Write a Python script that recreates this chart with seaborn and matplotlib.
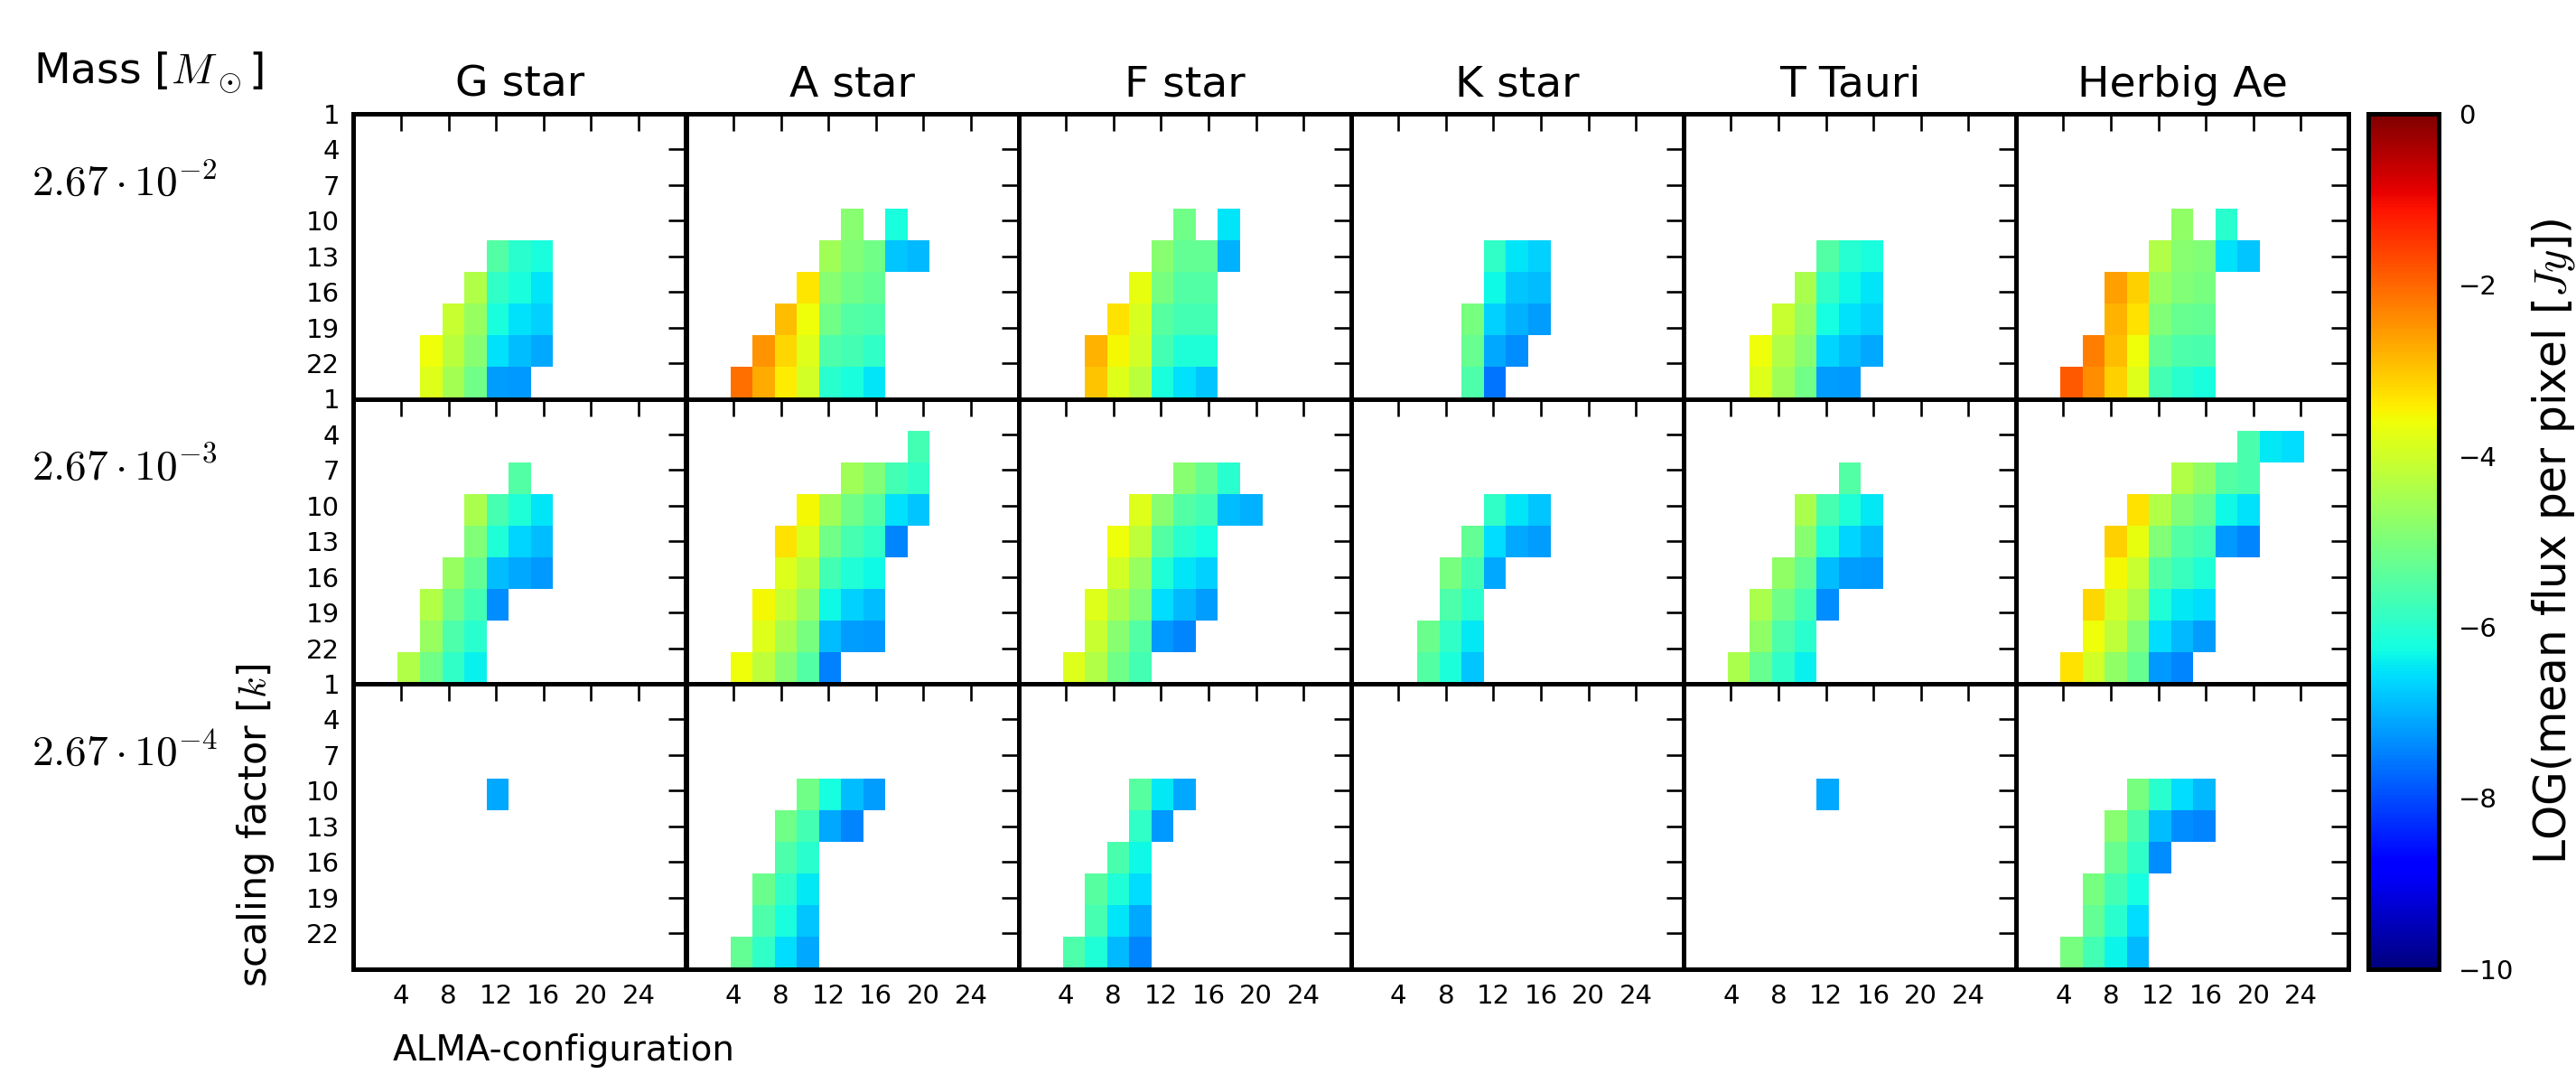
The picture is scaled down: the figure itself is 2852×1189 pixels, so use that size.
import numpy as np
import matplotlib
matplotlib.use('Agg')
import matplotlib.pyplot as plt
import seaborn as sns

nan = np.nan

# Column titles and row labels
stars = ['G star', 'A star', 'F star', 'K star', 'T Tauri', 'Herbig Ae']
masses = [r'$2.67\cdot10^{-2}$', r'$2.67\cdot10^{-3}$', r'$2.67\cdot10^{-4}$']
config_ticks = [4, 8, 12, 16, 20, 24]
k_ticks = [1, 4, 7, 10, 13, 16, 19, 22]

# every panel is a 9 (k) x 15 (configuration) grid spanning config 0..28, k 1..25
n_k, n_config = 9, 15
config_range = (0, 28)
k_range = (1, 25)

# LOG(mean flux per pixel), stored per grid row as (first column, values)
# --- Mass 2.67e-2
flux_g_m2 = {4: (6, [-5.5, -6.0, -6.2]),
             5: (5, [-4.35, -5.9, -6.2, -6.5]),
             6: (4, [-4.1, -4.65, -6.2, -6.55, -6.7]),
             7: (3, [-3.6, -4.25, -4.85, -6.55, -6.9, -7.1]),
             8: (3, [-3.8, -4.5, -5.15, -7.2, -7.25])}
flux_a_m2 = {3: (7, [-4.85, nan, -6.2]),
             4: (6, [-4.55, -4.95, -5.15, -6.8, -6.95]),
             5: (5, [-3.35, -4.85, -5.15, -5.3]),
             6: (4, [-2.9, -3.6, -5.15, -5.5, -5.55]),
             7: (3, [-2.5, -3.2, -3.8, -5.55, -5.7, -5.9]),
             8: (2, [-2.1, -2.7, -3.4, -3.95, -6.0, -6.2, -6.5])}
flux_f_m2 = {3: (7, [-5.15, nan, -6.5]),
             4: (6, [-4.85, -5.3, -5.3, -7.0]),
             5: (5, [-3.7, -5.05, -5.5, -5.5]),
             6: (4, [-3.3, -3.9, -5.45, -5.7, -5.7]),
             7: (3, [-2.8, -3.55, -3.95, -5.7, -6.1, -6.1]),
             8: (3, [-3.0, -3.8, -4.25, -6.2, -6.55, -6.8])}
flux_k_m2 = {4: (6, [-5.9, -6.5, -6.7]),
             5: (6, [-6.3, -6.8, -6.9]),
             6: (5, [-5.05, -6.7, -7.0, -7.2]),
             7: (5, [-5.25, -7.1, -7.35]),
             8: (5, [-5.55, -7.6])}
flux_t_m2 = {4: (6, [-5.5, -6.05, -6.2]),
             5: (5, [-4.45, -5.9, -6.3, -6.5]),
             6: (4, [-4.1, -4.65, -6.25, -6.55, -6.7]),
             7: (3, [-3.6, -4.35, -4.85, -6.65, -6.9, -7.1]),
             8: (3, [-3.8, -4.55, -5.15, -7.2, -7.25])}
flux_h_m2 = {3: (7, [-4.75, nan, -6.0]),
             4: (6, [-4.35, -4.85, -4.95, -6.55, -6.8]),
             5: (4, [-2.6, -3.1, -4.65, -4.95, -5.05]),
             6: (4, [-2.8, -3.3, -4.95, -5.25, -5.3]),
             7: (3, [-2.25, -2.9, -3.6, -5.3, -5.55, -5.6]),
             8: (2, [-1.85, -2.4, -3.1, -3.8, -5.7, -6.0, -6.2])}

# --- Mass 2.67e-3
flux_g_m3 = {2: (7, [-5.5]),
             3: (5, [-4.45, -5.65, -6.1, -6.5]),
             4: (5, [-4.95, -6.1, -6.65, -6.9]),
             5: (4, [-4.65, -5.3, -6.9, -7.1, -7.25]),
             6: (3, [-4.35, -5.15, -5.7, -7.35]),
             7: (3, [-4.65, -5.55, -6.0]),
             8: (2, [-4.35, -5.15, -5.9, -6.4])}
flux_a_m3 = {1: (10, [-5.7]),
             2: (7, [-4.55, -4.95, -5.7, -5.9]),
             3: (5, [-3.55, -4.55, -5.15, -5.5, -6.55, -6.8]),
             4: (4, [-3.3, -3.9, -5.15, -5.65, -5.9, -7.45]),
             5: (4, [-3.8, -4.25, -5.7, -6.1, -6.3]),
             6: (3, [-3.55, -4.1, -4.65, -6.3, -6.7, -6.9]),
             7: (3, [-3.8, -4.45, -5.05, -6.9, -7.2, -7.25]),
             8: (2, [-3.6, -4.2, -4.85, -5.5, -7.5])}
flux_f_m3 = {2: (7, [-4.85, -5.25, -6.0]),
             3: (5, [-3.8, -4.85, -5.5, -5.7, -6.9, -7.0]),
             4: (4, [-3.6, -4.2, -5.5, -6.0, -6.25]),
             5: (4, [-3.95, -4.65, -6.1, -6.5, -6.7]),
             6: (3, [-3.8, -4.45, -4.95, -6.6, -6.95, -7.2]),
             7: (3, [-4.1, -4.85, -5.5, -7.25, -7.45]),
             8: (2, [-3.8, -4.35, -5.15, -5.7])}
flux_k_m3 = {3: (6, [-5.9, -6.5, -6.8]),
             4: (5, [-5.3, -6.6, -7.1, -7.2]),
             5: (4, [-5.05, -5.7, -7.1]),
             6: (4, [-5.55, -6.0]),
             7: (3, [-5.2, -5.9, -6.45]),
             8: (3, [-5.5, -6.15, -6.8])}
flux_t_m3 = {2: (7, [-5.5]),
             3: (5, [-4.45, -5.65, -6.1, -6.45]),
             4: (5, [-4.85, -6.1, -6.65, -6.95]),
             5: (4, [-4.75, -5.3, -6.9, -7.2, -7.25]),
             6: (3, [-4.45, -5.15, -5.7, -7.35]),
             7: (3, [-4.75, -5.55, -6.0]),
             8: (2, [-4.45, -5.25, -5.9, -6.4])}
flux_h_m3 = {1: (10, [-5.6, -6.45, -6.6]),
             2: (7, [-4.35, -4.75, -5.5, -5.6]),
             3: (5, [-3.3, -4.35, -4.95, -5.25, -6.3, -6.55]),
             4: (4, [-3.1, -3.7, -4.95, -5.5, -5.7, -7.25, -7.45]),
             5: (4, [-3.55, -4.1, -5.5, -5.8, -6.1]),
             6: (3, [-3.2, -3.95, -4.45, -6.1, -6.45, -6.6]),
             7: (3, [-3.6, -4.2, -4.95, -6.6, -6.95, -7.2]),
             8: (2, [-3.3, -3.95, -4.75, -5.25, -7.25, -7.45])}

# --- Mass 2.67e-4
flux_g_m4 = {3: (6, [-7.1])}
flux_a_m4 = {3: (5, [-5.15, -6.25, -6.9, -7.2]),
             4: (4, [-5.15, -5.7, -7.1, -7.45]),
             5: (4, [-5.55, -6.0]),
             6: (3, [-5.2, -5.9, -6.45]),
             7: (3, [-5.55, -6.2, -6.8]),
             8: (2, [-5.3, -5.9, -6.6, -7.1])}
flux_f_m4 = {3: (5, [-5.45, -6.45, -7.1]),
             4: (5, [-5.9, -7.25]),
             5: (4, [-5.6, -6.3]),
             6: (3, [-5.45, -6.1, -6.6]),
             7: (3, [-5.65, -6.5, -7.1]),
             8: (2, [-5.55, -6.1, -6.95, -7.45])}
flux_k_m4 = {}
flux_t_m4 = {3: (6, [-7.1])}
flux_h_m4 = {3: (5, [-5.05, -6.0, -6.6, -6.95]),
             4: (4, [-4.85, -5.6, -6.9, -7.35, -7.45]),
             5: (4, [-5.25, -5.9, -7.35]),
             6: (3, [-5.05, -5.7, -6.25]),
             7: (3, [-5.3, -6.0, -6.6]),
             8: (2, [-5.05, -5.7, -6.35, -6.95])}

panels = [[flux_g_m2, flux_a_m2, flux_f_m2, flux_k_m2, flux_t_m2, flux_h_m2],
          [flux_g_m3, flux_a_m3, flux_f_m3, flux_k_m3, flux_t_m3, flux_h_m3],
          [flux_g_m4, flux_a_m4, flux_f_m4, flux_k_m4, flux_t_m4, flux_h_m4]]


def to_grid(runs):
    grid = np.full((n_k, n_config), np.nan)
    for r, (c0, vals) in runs.items():
        grid[r, c0:c0 + len(vals)] = vals
    return grid


sns.set_style('white', {'axes.edgecolor': 'black', 'text.color': 'black',
                        'axes.labelcolor': 'black',
                        'xtick.color': 'black', 'ytick.color': 'black'})
plt.rcParams['font.family'] = ['DejaVu Sans']
plt.rcParams['mathtext.fontset'] = 'cm'

W, H = 2852, 1189
fig = plt.figure(figsize=(W / 100, H / 100), dpi=100)


def rect(left, top, w, h):
    return [left / W, 1 - (top + h) / H, w / W, h / H]


# tick positions in heatmap cell units
xt = (np.array(config_ticks) - config_range[0]) / (config_range[1] - config_range[0]) * n_config
yt = (np.array(k_ticks) - k_range[0]) / (k_range[1] - k_range[0]) * n_k

pw, ph = 368.1, 315.5
x0, y0 = 391.4, 126
cax = fig.add_axes(rect(2622, y0, 78, 3 * ph))

for j, row in enumerate(panels):
    for i, runs in enumerate(row):
        ax = fig.add_axes(rect(x0 + i * pw, y0 + j * ph, pw, ph))
        first = (i == 0 and j == 0)
        sns.heatmap(to_grid(runs), ax=ax, cmap='jet', vmin=-10, vmax=0,
                    cbar=first, cbar_ax=cax if first else None,
                    xticklabels=False, yticklabels=False)
        for sp in ax.spines.values():
            sp.set_visible(True)
            sp.set_linewidth(3.6)
            sp.set_color('black')
        ax.set_xticks(xt)
        ax.set_yticks(yt)
        ax.set_xticklabels([str(t) for t in config_ticks])
        ax.set_yticklabels([str(t) for t in k_ticks])
        ax.tick_params(axis='both', direction='in', length=14, width=1.9,
                       top=True, right=True, color='black', labelsize=21,
                       labelleft=(i == 0), labelbottom=(j == 2))
        ax.tick_params(axis='x', pad=12)
        ax.tick_params(axis='y', pad=11)
        if j == 0:
            ax.set_title(stars[i], fontsize=34, pad=14)

# colorbar styling
cbar = fig.axes[1].collections[0].colorbar
cbar.set_ticks([0, -2, -4, -6, -8, -10])
cbar.outline.set_linewidth(3.6)
cbar.outline.set_edgecolor('black')
cax.tick_params(direction='in', length=18, width=1.9, labelsize=21, pad=16,
                color='black')

# labels
fig.text(37 / W, 1 - 80 / H, r'Mass [$M_\odot$]', fontsize=34, ha='left', va='center')
for j, m in enumerate(masses):
    fig.text(35 / W, 1 - (y0 + j * ph + 77) / H, m, fontsize=34, ha='left', va='center')
fig.text(624 / W, 1 - 1163 / H, 'ALMA-configuration', fontsize=28, ha='center', va='center')
fig.text(283 / W, 1 - 914 / H, r'scaling factor [$k$]', fontsize=31, rotation=90,
         ha='center', va='center')
fig.text(2827 / W, 1 - 600 / H, r'LOG(mean flux per pixel [$Jy$])', fontsize=35,
         rotation=90, ha='center', va='center')

fig.savefig('out.png', dpi=100, facecolor='white')
